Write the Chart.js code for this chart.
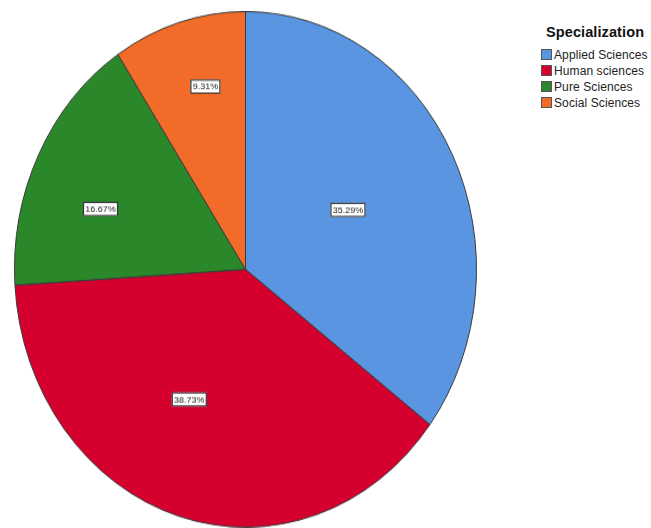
<!DOCTYPE html>
<html>
<head>
<meta charset="utf-8">
<script src="https://cdn.jsdelivr.net/npm/chart.js@4"></script>
<style>
  html, body { margin: 0; padding: 0; background: #fff; }
  body { width: 651px; height: 528px; position: relative; overflow: hidden; font-family: "Liberation Sans", Arial, sans-serif; }
  #pieWrap { position: absolute; left: 14px; top: 11px; width: 463px; height: 463px; transform: scaleY(1.116); transform-origin: top left; }
  #legend { position: absolute; left: 541px; top: 24px; }
  #legend .title { font-weight: bold; font-size: 14.5px; color: #111; margin: 0 0 7px 5px; letter-spacing: 0.1px; }
  #legend .item { font-size: 12px; color: #222; height: 16px; line-height: 16px; white-space: nowrap; letter-spacing: 0.1px; }
  #legend .box { display: inline-block; width: 11px; height: 11px; border: 1px solid #555; box-sizing: border-box; vertical-align: -1px; margin-right: 2px; }
</style>
</head>
<body>
<div id="pieWrap"><canvas id="pie"></canvas></div>
<div id="legend"></div>
<script>
const legendTitle = 'Specialization'
const categories = ['Applied Sciences', 'Human sciences', 'Pure Sciences', 'Social Sciences']
const percents = [35.29, 38.73, 16.67, 9.31]
const colors = ['#5a95e2', '#d5002e', '#2a882a', '#f26b29']

// squash factor to turn the circle into the tall ellipse of the original
const stretch = 1.116
// where each percent label sits: fraction of radius, and angle nudge in degrees
const labelRadius = [0.5, 0.56, 0.67, 0.73]
const labelNudge = [-1, 9, -6, 3]

// legend
const legend = document.getElementById('legend')
legend.innerHTML = '<div class="title">' + legendTitle + '</div>' +
  categories.map((c, i) =>
    '<div class="item"><span class="box" style="background:' + colors[i] + '"></span>' + c + '</div>'
  ).join('')

const pctLabels = {
  id: 'pctLabels',
  afterDatasetsDraw(chart) {
    const ctx = chart.ctx
    const meta = chart.getDatasetMeta(0)
    meta.data.forEach((arc, i) => {
      const mid = (arc.startAngle + arc.endAngle) / 2 + labelNudge[i] * Math.PI / 180
      const r = arc.outerRadius * labelRadius[i]
      const x = arc.x + Math.cos(mid) * r
      const y = arc.y + Math.sin(mid) * r
      const text = percents[i].toFixed(2) + '%'
      ctx.save()
      ctx.translate(x, y)
      ctx.scale(1, 1 / stretch)
      ctx.font = '9px "Liberation Sans", Arial, sans-serif'
      const w = Math.round(ctx.measureText(text).width + 4)
      const h = 14
      ctx.fillStyle = '#fff'
      ctx.fillRect(-w / 2, -h / 2, w, h)
      ctx.strokeStyle = '#333'
      ctx.lineWidth = 1.2
      ctx.strokeRect(-w / 2 + 0.5, -h / 2 + 0.5, w - 1, h - 1)
      ctx.fillStyle = '#222'
      ctx.textAlign = 'center'
      ctx.textBaseline = 'middle'
      ctx.fillText(text, 0, 0.5)
      ctx.restore()
    })
  }
}

new Chart(document.getElementById('pie'), {
  type: 'pie',
  data: {
    labels: categories,
    datasets: [{
      data: percents,
      backgroundColor: colors,
      borderColor: '#3a3a3a',
      borderWidth: 1
    }]
  },
  options: {
    responsive: true,
    maintainAspectRatio: false,
    animation: false,
    layout: { padding: 0 },
    plugins: {
      legend: { display: false },
      tooltip: { enabled: false }
    }
  },
  plugins: [pctLabels]
})
</script>
</body>
</html>
